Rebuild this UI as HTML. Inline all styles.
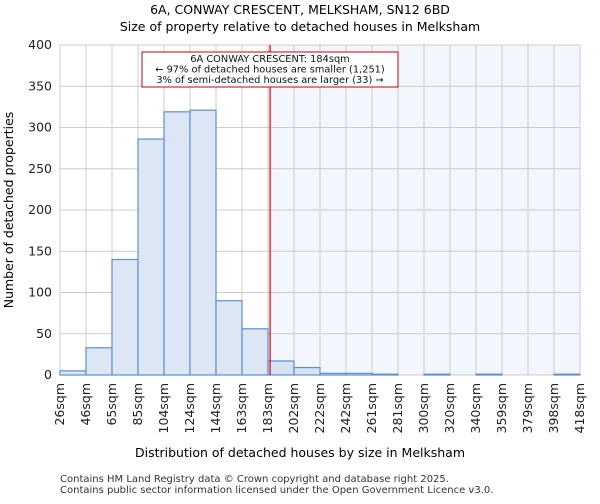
<!DOCTYPE html>
<html><head><meta charset="utf-8"><style>
body{margin:0;background:#fff;font-family:"DejaVu Sans","Liberation Sans",sans-serif;}
svg text{font-family:"DejaVu Sans","Liberation Sans",sans-serif;}
</style></head><body>
<svg id="c" width="600" height="500">
<text x="300" y="14" text-anchor="middle" font-size="12.5">6A, CONWAY CRESCENT, MELKSHAM, SN12 6BD</text>
<text x="300" y="31" text-anchor="middle" font-size="12.5">Size of property relative to detached houses in Melksham</text>
<g id="plot"></g>
<text x="300" y="457" text-anchor="middle" font-size="12.5">Distribution of detached houses by size in Melksham</text>
<text transform="translate(13,210) rotate(-90)" text-anchor="middle" font-size="12.5">Number of detached properties</text>
<text x="60" y="482" font-size="10" fill="#333">Contains HM Land Registry data © Crown copyright and database right 2025.</text>
<text x="60" y="493" font-size="10" fill="#333">Contains public sector information licensed under the Open Government Licence v3.0.</text>
</svg>
<script>
const categories=["26sqm","46sqm","65sqm","85sqm","104sqm","124sqm","144sqm","163sqm","183sqm","202sqm","222sqm","242sqm","261sqm","281sqm","300sqm","320sqm","340sqm","359sqm","379sqm","398sqm","418sqm"];
const counts=[5,33,140,286,319,321,90,56,17,9,2,2,1,0,1,0,1,0,0,1];
const yTicks=[0,50,100,150,200,250,300,350,400];
const binStart=26, binWidth=19.6, propertySize=184;
const L=60,R=580,T=45,B=375,yMax=400;
const n=counts.length;
const xs=v=>L+(v-binStart)/(binWidth*n)*(R-L);
const xi=i=>L+i*(R-L)/n;
const ys=v=>B-v/yMax*(B-T);
const NS="http://www.w3.org/2000/svg";
const g=document.getElementById('plot');
function mk(t,a){const e=document.createElementNS(NS,t);for(const k in a)e.setAttribute(k,a[k]);g.appendChild(e);return e;}
const px=xs(propertySize);
let sh=mk('rect',{x:xi(8),y:T,width:R-xi(8),height:B-T,fill:'#f4f6fd'});


for(let i=0;i<=n;i++){let l=mk('line',{x1:xi(i),x2:xi(i),y1:T,y2:B,stroke:'#ccc','stroke-width':1});

}
yTicks.forEach(v=>{let l=mk('line',{x1:L,x2:R,y1:ys(v),y2:ys(v),stroke:'#ccc','stroke-width':1});


let t=mk('text',{x:L-8,y:ys(v)+4,'text-anchor':'end','font-size':'12.5',fill:'#222'});t.textContent=v;

});
counts.forEach((c,i)=>{let r=mk('rect',{x:xi(i),y:ys(c),width:xi(i+1)-xi(i),height:B-ys(c),fill:i<8?'#dce6f4':'#d6e1f3',stroke:'#5b8fd6','stroke-width':1.2});

});
categories.forEach((c,i)=>{let t=mk('text',{transform:`translate(${xi(i)+4},${B+8}) rotate(-90)`,'text-anchor':'end','font-size':'12.5',fill:'#222'});t.textContent=c;

});
let ln=mk('line',{x1:px+0.5,x2:px+0.5,y1:T,y2:B,stroke:'#e00000','stroke-width':1.2});


let bx=mk('rect',{x:142,y:52,width:256,height:35,fill:'#fff',stroke:'#cc0000','stroke-width':1});


["6A CONWAY CRESCENT: 184sqm","← 97% of detached houses are smaller (1,251)","3% of semi-detached houses are larger (33) →"].forEach((s,k)=>{let t=mk('text',{x:270,y:62+k*10.5,'text-anchor':'middle','font-size':'9.8',fill:'#111'});t.textContent=s;

});
</script>
</body></html>
